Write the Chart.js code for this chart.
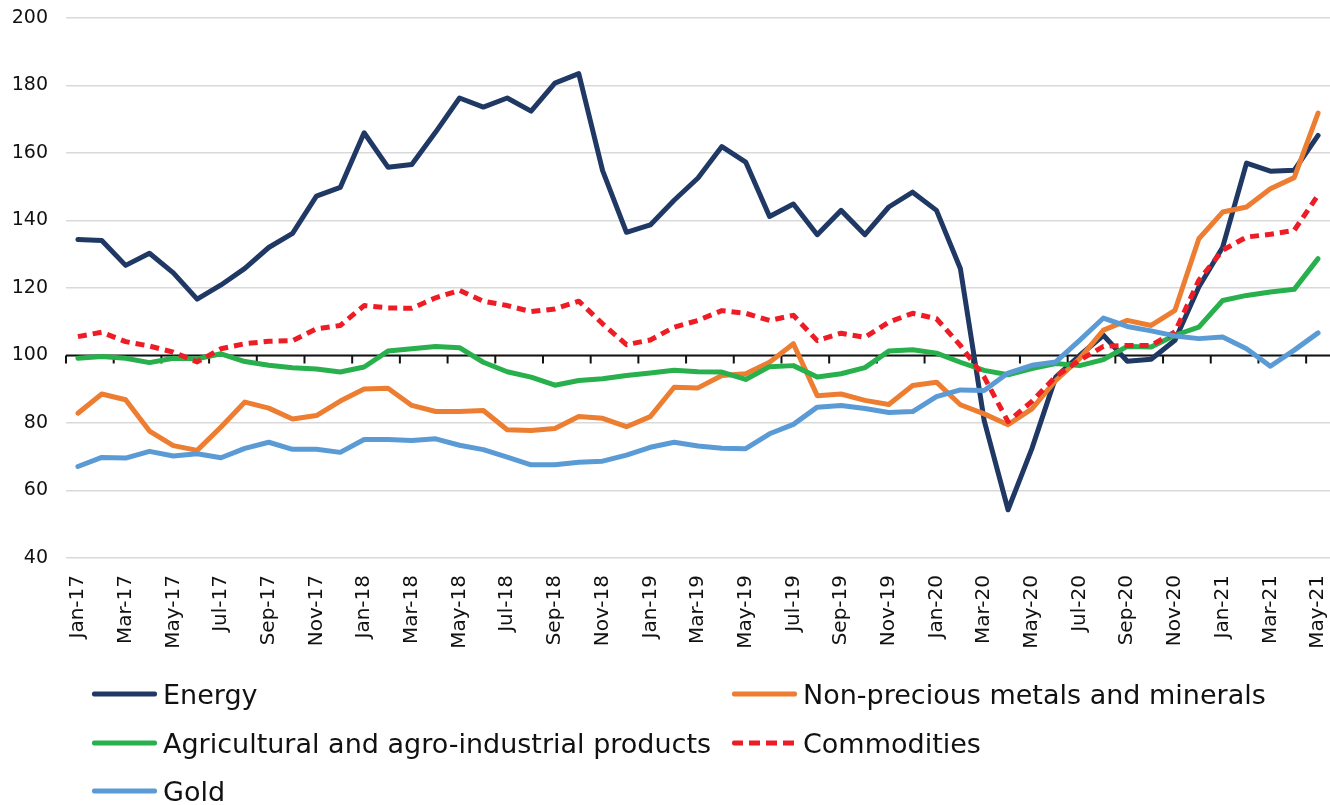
<!DOCTYPE html>
<html>
<head>
<meta charset="utf-8">
<script src="https://cdn.jsdelivr.net/npm/chart.js@4.4.0/dist/chart.umd.min.js"></script>
<style>
  body { margin: 0; background: #fff; font-family: "DejaVu Sans", sans-serif; }
  #wrap { position: relative; width: 1330px; height: 805px; }
  #box { position: absolute; left: 0; top: 0; width: 1330px; height: 655px; }
  #legend { position: absolute; left: 0; top: 0; width: 1330px; height: 805px; }
  .item { position: absolute; display: flex; align-items: center; font-size: 27px; color: #111; white-space: nowrap; transform: translateY(-50%); }
  .swatch { width: 65px; height: 5px; margin-right: 6px; border-radius: 2px; }
</style>
</head>
<body>
<div id="wrap">
  <div id="box"><canvas id="chart"></canvas></div>
  <div id="legend"></div>
</div>
<script>
var months = ['Jan-17','Feb-17','Mar-17','Apr-17','May-17','Jun-17','Jul-17','Aug-17','Sep-17','Oct-17','Nov-17','Dec-17',
  'Jan-18','Feb-18','Mar-18','Apr-18','May-18','Jun-18','Jul-18','Aug-18','Sep-18','Oct-18','Nov-18','Dec-18',
  'Jan-19','Feb-19','Mar-19','Apr-19','May-19','Jun-19','Jul-19','Aug-19','Sep-19','Oct-19','Nov-19','Dec-19',
  'Jan-20','Feb-20','Mar-20','Apr-20','May-20','Jun-20','Jul-20','Aug-20','Sep-20','Oct-20','Nov-20','Dec-20',
  'Jan-21','Feb-21','Mar-21','Apr-21','May-21'];

var energy = [134.4,134.1,126.7,130.3,124.5,116.7,120.9,125.8,132.0,136.2,147.2,149.8,
  166.0,155.8,156.6,166.2,176.3,173.6,176.3,172.4,180.7,183.5,154.8,136.5,
  138.7,146.0,152.6,161.9,157.3,141.2,144.9,135.8,143.0,135.8,144.0,148.4,
  143.0,125.8,80.7,54.3,72.4,93.6,100.0,106.0,98.3,98.9,104.5,120.3,
  132.1,157.0,154.6,154.9,165.2];
var metals = [82.9,88.6,86.9,77.6,73.3,71.9,78.8,86.2,84.4,81.2,82.2,86.5,
  90.1,90.3,85.2,83.4,83.4,83.7,78.0,77.8,78.4,81.9,81.4,78.9,
  81.9,90.6,90.4,94.1,94.6,98.0,103.5,88.1,88.6,86.7,85.5,91.1,
  92.1,85.4,82.7,79.5,84.2,92.6,99.1,107.5,110.4,108.9,113.4,134.6,
  142.5,144.0,149.4,152.7,171.8];
var agri = [99.2,99.7,99.2,97.9,99.2,99.0,100.5,98.2,97.1,96.4,96.0,95.1,
  96.6,101.3,102.0,102.7,102.3,98.0,95.2,93.6,91.2,92.6,93.1,94.1,
  94.8,95.6,95.2,95.1,92.9,96.7,97.0,93.6,94.6,96.4,101.3,101.7,
  100.7,98.0,95.6,94.3,96.1,97.6,97.0,98.8,102.7,102.5,106.0,108.4,
  116.3,117.8,118.8,119.6,128.7];
var commodities = [105.6,106.9,104.1,102.8,101.0,98.1,102.0,103.5,104.2,104.4,107.9,108.9,
  114.8,114.1,114.0,117.1,119.3,116.1,114.8,113.0,113.8,116.1,109.4,103.2,
  104.6,108.4,110.4,113.3,112.5,110.4,111.9,104.4,106.6,105.4,109.9,112.5,
  110.9,103.0,93.6,80.4,86.4,93.8,98.6,102.7,103.0,103.0,107.0,122.3,
  131.2,135.1,135.9,137.1,147.5];
var gold = [67.1,69.8,69.6,71.6,70.2,70.9,69.7,72.5,74.3,72.2,72.2,71.3,
  75.1,75.1,74.8,75.3,73.4,72.1,69.9,67.6,67.6,68.4,68.7,70.5,
  72.8,74.3,73.2,72.5,72.4,76.8,79.6,84.7,85.2,84.3,83.1,83.4,
  87.8,89.8,89.6,94.8,97.1,98.1,104.5,111.1,108.6,107.3,105.8,105.0,
  105.5,102.0,96.8,101.6,106.7];

var yTicks = [40, 60, 80, 100, 120, 140, 160, 180, 200];

// line at 100 with small tick marks every two months
var baseLine = {
  id: 'baseLine',
  beforeDatasetsDraw: function (chart) {
    var ctx = chart.ctx, x = chart.scales.x, y = chart.scales.y;
    var py = y.getPixelForValue(100);
    ctx.save();
    ctx.strokeStyle = '#111';
    ctx.lineWidth = 2;
    ctx.beginPath();
    ctx.moveTo(chart.chartArea.left, py);
    ctx.lineTo(chart.chartArea.right, py);
    for (var i = 0; i < months.length; i += 2) {
      var px = x.getPixelForValue(i - 0.5);
      ctx.moveTo(px, py);
      ctx.lineTo(px, py + 8);
    }
    ctx.stroke();
    ctx.restore();
  }
};

var el = document.getElementById('chart');
var chart = new Chart(el, {
  type: 'line',
  data: {
    labels: months,
    datasets: [
      { label: 'Energy', data: energy, borderColor: '#203864', order: 5 },
      { label: 'Non-precious metals and minerals', data: metals, borderColor: '#ed7d31', order: 4 },
      { label: 'Agricultural and agro-industrial products', data: agri, borderColor: '#27b04b', order: 3 },
      { label: 'Commodities', data: commodities, borderColor: '#ee1c25', borderDash: [9, 6], borderCapStyle: 'butt', order: 2 },
      { label: 'Gold', data: gold, borderColor: '#5b9bd5', order: 1 }
    ]
  },
  options: {
    responsive: true,
    maintainAspectRatio: false,
    animation: false,
    layout: { padding: { top: 18, right: 0, left: 0, bottom: 0 } },
    elements: {
      point: { radius: 0 },
      line: { tension: 0, borderWidth: 5, borderJoinStyle: 'round', borderCapStyle: 'round', fill: false }
    },
    plugins: {
      legend: { display: false },
      tooltip: { enabled: false }
    },
    scales: {
      x: {
        offset: true,
        grid: { display: false, drawTicks: false },
        border: { display: false },
        ticks: {
          autoSkip: false, maxRotation: 90, minRotation: 90, padding: 17,
          color: '#111', font: { family: 'DejaVu Sans', size: 20 },
          callback: function (v, i) { return i % 2 === 0 ? this.getLabelForValue(v) : ''; }
        },
        afterFit: function (s) { s.height = 97; s.paddingLeft = 0; s.paddingRight = 0; }
      },
      y: {
        min: 40, max: 200,
        afterBuildTicks: function (s) { s.ticks = yTicks.map(function (v) { return { value: v }; }); },
        grid: { color: '#d9d9d9', lineWidth: 1.5, drawTicks: false },
        border: { display: false },
        ticks: { padding: 18, color: '#111', font: { family: 'DejaVu Sans', size: 19 } },
        afterFit: function (s) { s.width = 66; s.paddingTop = 0; s.paddingBottom = 0; }
      }
    }
  },
  plugins: [baseLine]
});

// legend in two columns below the chart
var spots = [[92, 694], [732, 694], [92, 743], [732, 743], [92, 791]];
var leg = document.getElementById('legend');
chart.data.datasets.forEach(function (ds, i) {
  var item = document.createElement('div');
  item.className = 'item';
  item.style.left = spots[i][0] + 'px';
  item.style.top = spots[i][1] + 'px';
  var sw = document.createElement('div');
  sw.className = 'swatch';
  if (ds.borderDash) {
    sw.style.background = 'repeating-linear-gradient(to right, ' + ds.borderColor + ' 0 11px, transparent 11px 17px)';
  } else {
    sw.style.background = ds.borderColor;
  }
  var tx = document.createElement('span');
  tx.textContent = ds.label;
  item.appendChild(sw);
  item.appendChild(tx);
  leg.appendChild(item);
});
</script>
</body>
</html>
